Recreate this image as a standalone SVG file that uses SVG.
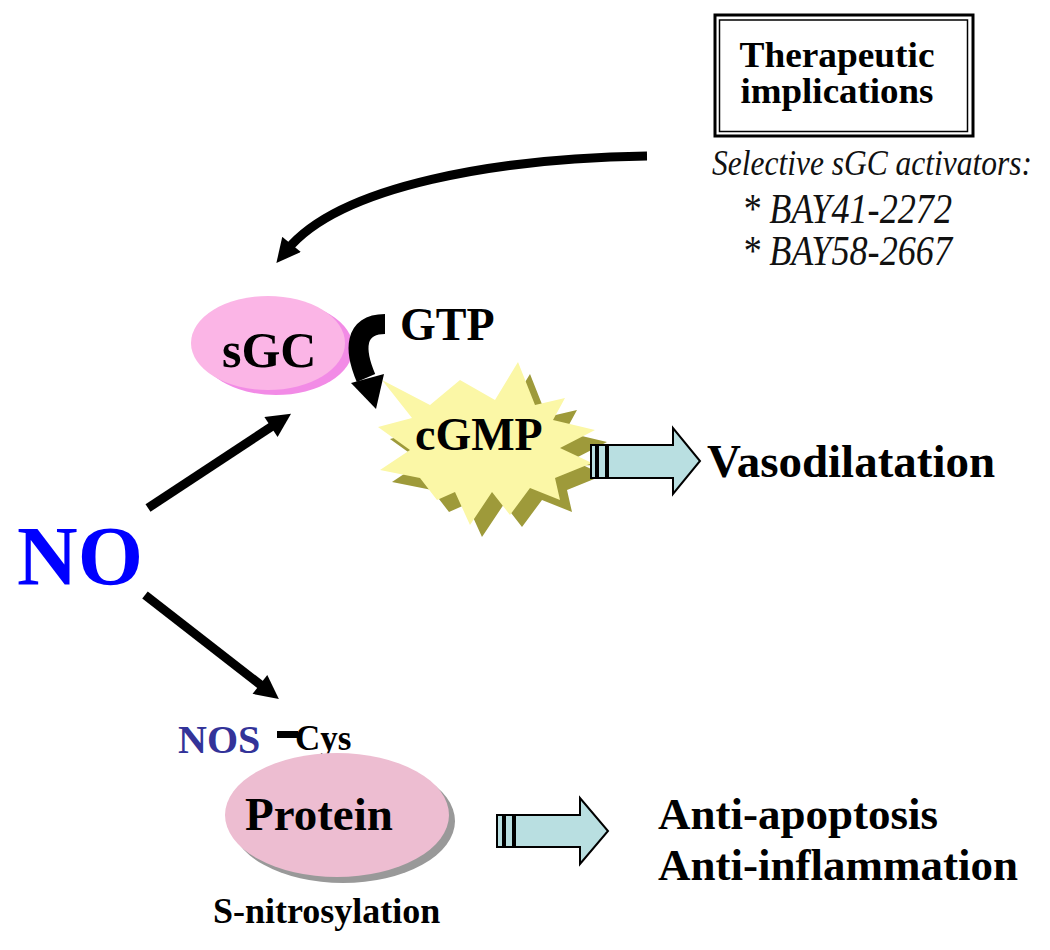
<svg xmlns="http://www.w3.org/2000/svg" width="1050" height="950" viewBox="0 0 1050 950">
  <style>
    .b { font-family: "Liberation Serif", "Times New Roman", serif; font-weight: bold; fill: #000; }
    .it { font-family: "Liberation Serif", "Times New Roman", serif; font-style: italic; fill: #111; }
    .conn { fill: none; stroke: #000; stroke-width: 9; }
    .block { fill: #B9DFE1; stroke: #000; stroke-width: 2; stroke-linejoin: miter; }
  </style>
  <defs>
    <marker id="head" viewBox="0 0 10 10" refX="3" refY="5" markerUnits="userSpaceOnUse" markerWidth="26" markerHeight="24" orient="auto">
      <path d="M0,0 L10,5 L0,10 Z" fill="#000"/>
    </marker>
  </defs>
  <rect width="1050" height="950" fill="#fff"/>

  <!-- Therapeutic implications box -->
  <g id="therapeutic">
    <rect x="715" y="15" width="258" height="121" fill="#fff" stroke="#000" stroke-width="3"/>
    <rect x="719.5" y="20" width="248" height="111.5" fill="none" stroke="#000" stroke-width="1.5"/>
    <text class="b" x="837" y="67" font-size="35" text-anchor="middle" textLength="195" lengthAdjust="spacingAndGlyphs">Therapeutic</text>
    <text class="b" x="837" y="103" font-size="35" text-anchor="middle" textLength="193" lengthAdjust="spacingAndGlyphs">implications</text>
  </g>

  <g id="activators">
    <text class="it" transform="translate(872,175) scale(1,1.15)" font-size="32" text-anchor="middle" textLength="320" lengthAdjust="spacingAndGlyphs">Selective sGC activators:</text>
    <text class="it" transform="translate(847,223) scale(1,1.15)" font-size="36" text-anchor="middle" textLength="210" lengthAdjust="spacingAndGlyphs">* BAY41-2272</text>
    <text class="it" transform="translate(847,265) scale(1,1.15)" font-size="36" text-anchor="middle" textLength="210" lengthAdjust="spacingAndGlyphs">* BAY58-2667</text>
  </g>

  <!-- sGC -->
  <g id="sgc">
    <ellipse cx="276" cy="348" rx="77" ry="47" fill="#F28BE6"/>
    <ellipse cx="268" cy="343" rx="77" ry="47" fill="#FBB5E6"/>
    <text class="b" x="222" y="367" font-size="50">sGC</text>
  </g>

  <g id="gtp">
    <text class="b" x="400" y="340" font-size="46">GTP</text>
  </g>

  <!-- cGMP starburst -->
  <g id="cgmp">
    <polygon transform="translate(12,12)" fill="#9E9A3A" points="382,380 430,405 460,380 495,400 518,362 535,405 565,398 553,420 595,430 560,448 592,463 555,478 560,500 530,488 510,515 492,492 470,525 455,492 437,500 420,478 380,470 410,450 378,427 412,418"/>
    <line x1="555" y1="464" x2="592" y2="464" stroke="#9E9A3A" stroke-width="2.5"/>
    <polygon fill="#FBF7A6" points="382,380 430,405 460,380 495,400 518,362 535,405 565,398 553,420 595,430 560,448 592,463 555,478 560,500 530,488 510,515 492,492 470,525 455,492 437,500 420,478 380,470 410,450 378,427 412,418"/>
    <text class="b" x="415" y="450" font-size="46">cGMP</text>
  </g>

  <!-- Vasodilatation block arrow and label -->
  <g id="vasodilatation">
    <rect class="block" x="591" y="445" width="5" height="33"/>
    <rect class="block" x="598" y="445" width="8" height="33"/>
    <path class="block" d="M608 445 L673 445 L673 428 L700 461 L673 494 L673 478 L608 478 Z"/>
    <text class="b" x="707" y="477" font-size="47">Vasodilatation</text>
  </g>

  <!-- NO -->
  <g id="no">
    <text x="17" y="585" font-size="84" font-family="Liberation Serif, Times New Roman, serif" font-weight="bold" fill="#0000FF">NO</text>
  </g>

  <!-- NOS-Cys -->
  <g id="nos-cys">
    <text x="178" y="753" font-size="40" font-family="Liberation Serif, Times New Roman, serif" font-weight="bold" fill="#333399">NOS</text>
    <rect x="277" y="731" width="21" height="7" fill="#000"/>
    <text class="b" x="295" y="750" font-size="35">Cys</text>
  </g>

  <!-- Protein -->
  <g id="protein">
    <ellipse cx="343" cy="821" rx="112" ry="62" fill="#999"/>
    <ellipse cx="337" cy="815" rx="112" ry="62" fill="#EDBDD1"/>
    <text class="b" x="245" y="830" font-size="47">Protein</text>
    <text class="b" x="213" y="923" font-size="36">S-nitrosylation</text>
  </g>

  <!-- Outcomes block arrow and labels -->
  <g id="outcomes">
    <rect class="block" x="497" y="815" width="6" height="32"/>
    <rect class="block" x="505" y="815" width="8" height="32"/>
    <path class="block" d="M515 815 L580 815 L580 798 L608 831 L580 864 L580 847 L515 847 Z"/>
    <text class="b" x="658" y="829" font-size="45">Anti-apoptosis</text>
    <text class="b" x="658" y="880" font-size="45">Anti-inflammation</text>
  </g>

  <!-- Connectors -->
  <g id="connectors">
    <path class="conn" d="M647 156 C500 158 340 185 287 250" marker-end="url(#head)"/>
    <line class="conn" x1="148" y1="508" x2="277" y2="423" marker-end="url(#head)"/>
    <line class="conn" x1="145" y1="595" x2="265.6" y2="688.8" marker-end="url(#head)"/>
    <path d="M385 324 C354 324 354 350 366 378" fill="none" stroke="#000" stroke-width="20"/>
    <polygon points="351,383 384,374 376,409" fill="#000"/>
  </g>
</svg>
